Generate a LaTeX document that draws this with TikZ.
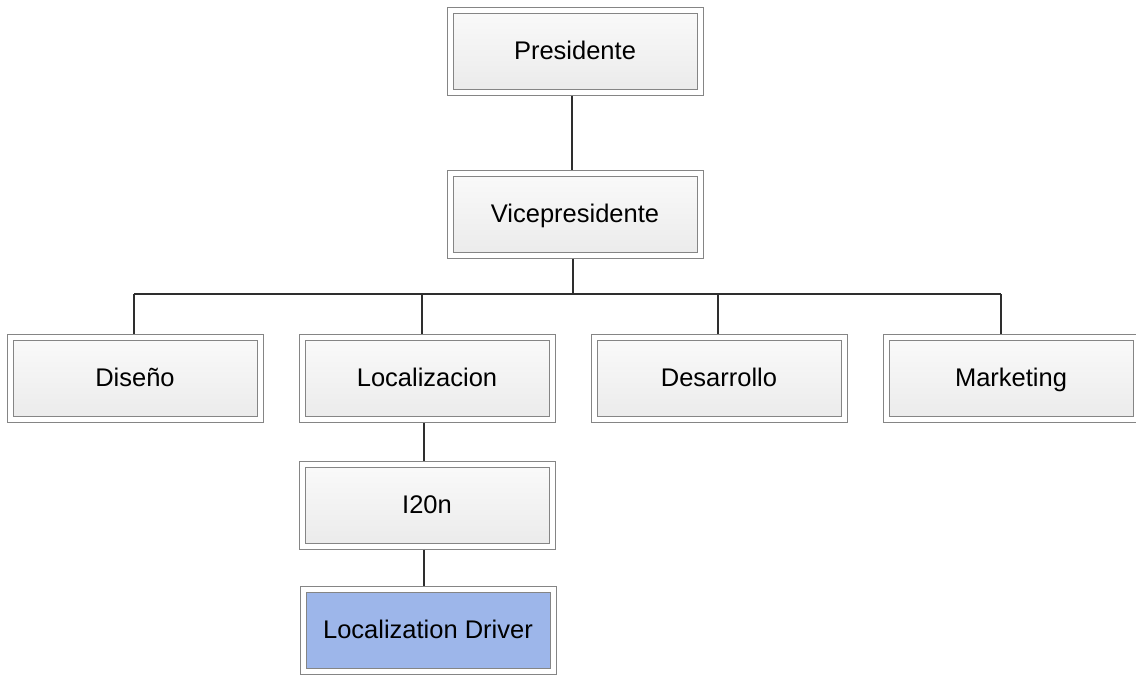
\documentclass[tikz,border=0pt]{standalone}
\usepackage{fontspec}
\setmainfont{Liberation Sans}
\definecolor{boxgray}{HTML}{858585}
\definecolor{linkgray}{HTML}{2E2E2E}
\definecolor{drivblue}{HTML}{9DB6EA}
\begin{document}
\begin{tikzpicture}[x=1pt,y=-1pt,
  unit/.style={draw=boxgray, line width=1pt, double=white, double distance=5pt,
    minimum width=250pt, minimum height=82pt, outer sep=3.5pt, inner sep=0pt,
    text height=21pt, text depth=5pt,
    top color=white!98!black, bottom color=white!92!black,
    font=\fontsize{25.5}{30}\selectfont},
  driver/.style={unit, fill=drivblue, top color=drivblue, bottom color=drivblue},
  link/.style={draw=linkgray, line width=1.2pt}]
\useasboundingbox (0,0) rectangle (1136,675);

% boxes
\node[unit] (pres) at (575,51) {Presidente};
\node[unit] (vice) at (575,214.5) {Vicepresidente};
\node[unit] (dis) at (135,378.5) {Diseño};
\node[unit] (loc) at (427,378.5) {Localizacion};
\node[unit] (des) at (719,378.5) {Desarrollo};
\node[unit] (mkt) at (1011,378.5) {Marketing};
\node[unit] (i20) at (427,505) {I20n};
\node[driver] (ld) at (428,630.5) {Localization Driver};

% bus and drop points
\coordinate (vb) at (573,294);
\coordinate (d1) at (134,294);
\coordinate (d2) at (422,294);
\coordinate (d3) at (718,294);
\coordinate (d4) at (1001,294);

% connectors
\draw[link] ([xshift=-3pt]pres.south) -- ([xshift=-3pt]vice.north);
\draw[link] (vb |- vice.south) -- (vb);
\draw[link] (d1) -- (d4);
\draw[link] (d1) -- (d1 |- dis.north);
\draw[link] (d2) -- (d2 |- loc.north);
\draw[link] (d3) -- (d3 |- des.north);
\draw[link] (d4) -- (d4 |- mkt.north);
\draw[link] ([xshift=-3pt]loc.south) -- ([xshift=-3pt]i20.north);
\draw[link] ([xshift=-3pt]i20.south) -- ([xshift=-4pt]ld.north);
\end{tikzpicture}
\end{document}
